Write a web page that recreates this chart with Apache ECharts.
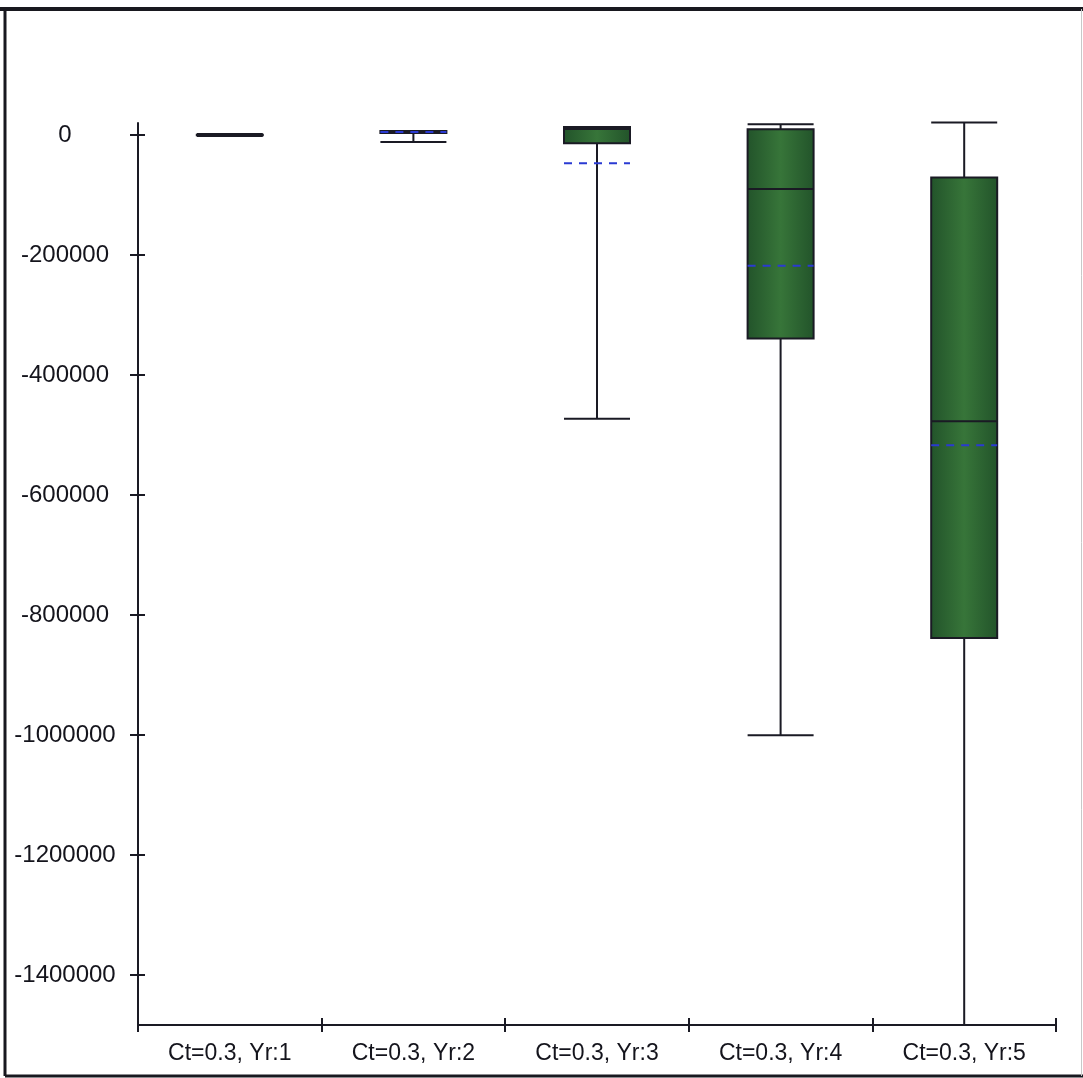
<!DOCTYPE html>
<html>
<head>
<meta charset="utf-8">
<script src="https://cdn.jsdelivr.net/npm/echarts@6/dist/echarts.min.js"></script>
<style>
  html, body { margin: 0; padding: 0; background: #ffffff; }
  #chart { width: 1083px; height: 1078px; }
</style>
</head>
<body>
<div id="chart"></div>
<script>
// Scenario boxes: Ct=0.3 over years 1..5
const categories = ['Ct=0.3, Yr:1', 'Ct=0.3, Yr:2', 'Ct=0.3, Yr:3', 'Ct=0.3, Yr:4', 'Ct=0.3, Yr:5'];
const lowWhisker  = [-1500, -11700, -473000, -1000000, -1483000];
const lowerQuart  = [-500, 3500, -13800, -339000, -838000];
const medians     = [0, 5000, 10000, -90000, -477000];
const upperQuart  = [500, 6500, 13300, 9500, -71000];
const highWhisker = [1500, 6700, 13300, 18000, 21000];
const means       = [null, 5000, -47000, -218000, -517000];
const yTickValues = [0, -200000, -400000, -600000, -800000, -1000000, -1200000, -1400000];
const yMin = -1483000;
const yMax = 20000;

const boxData = categories.map((c, i) => [lowWhisker[i], lowerQuart[i], medians[i], upperQuart[i], highWhisker[i]]);
const meanData = means.map((m, i) => [i, m]);

const textColor = '#14141c';
const lineColor = '#1a1a24';
const fontFamily = 'Liberation Sans, Arial, sans-serif';
const BOX_W = 66;

const chart = echarts.init(document.getElementById('chart'), null, { renderer: 'canvas' });

const yBase = {
  type: 'value',
  min: yMin,
  max: yMax,
  position: 'left',
  splitLine: { show: false }
};
const xBase = {
  type: 'category',
  data: categories,
  position: 'bottom',
  boundaryGap: true,
  splitLine: { show: false }
};

chart.setOption({
  backgroundColor: '#ffffff',
  animation: false,
  grid: { left: 138, right: 27, top: 123, bottom: 53 },
  xAxis: [
    Object.assign({}, xBase, {
      axisLine: { show: true, onZero: false, lineStyle: { color: lineColor, width: 2 } },
      axisTick: { show: true, inside: false, length: 7, lineStyle: { color: lineColor, width: 2 } },
      axisLabel: { show: true, margin: 17, color: textColor, fontSize: 23, fontFamily: fontFamily }
    }),
    Object.assign({}, xBase, {
      axisLine: { show: false, onZero: false },
      axisTick: { show: true, inside: true, length: 7, lineStyle: { color: lineColor, width: 2 } },
      axisLabel: { show: false }
    })
  ],
  yAxis: [
    Object.assign({}, yBase, {
      axisLine: { show: true, onZero: false, lineStyle: { color: lineColor, width: 2 } },
      axisTick: { show: true, inside: false, length: 8, customValues: yTickValues, lineStyle: { color: lineColor, width: 2 } },
      axisLabel: {
        show: true, customValues: yTickValues, margin: 73, align: 'center',
        formatter: function (v) { return String(v); },
        color: textColor, fontSize: 24, fontFamily: fontFamily
      }
    }),
    Object.assign({}, yBase, {
      axisLine: { show: false, onZero: false },
      axisTick: { show: true, inside: true, length: 7, customValues: yTickValues, lineStyle: { color: lineColor, width: 2 } },
      axisLabel: { show: false }
    })
  ],
  series: [
    {
      type: 'boxplot',
      xAxisIndex: 0,
      yAxisIndex: 0,
      data: boxData,
      boxWidth: [BOX_W, BOX_W],
      itemStyle: {
        color: new echarts.graphic.LinearGradient(0, 0, 1, 0, [
          { offset: 0, color: '#22532a' },
          { offset: 0.5, color: '#377539' },
          { offset: 1, color: '#22532a' }
        ]),
        borderColor: lineColor,
        borderWidth: 2
      },
      z: 2
    },
    {
      type: 'custom',
      xAxisIndex: 0,
      yAxisIndex: 0,
      data: meanData,
      z: 3,
      renderItem: function (params, api) {
        const v = api.value(1);
        if (v === null || v === undefined || isNaN(v)) return null;
        const p = api.coord([api.value(0), v]);
        return {
          type: 'line',
          shape: { x1: p[0] - BOX_W / 2, y1: p[1], x2: p[0] + BOX_W / 2, y2: p[1] },
          style: { stroke: '#2a3ad2', lineWidth: 2, lineDash: [8, 7] }
        };
      }
    }
  ],
  graphic: [
    // outer frame
    { type: 'line', shape: { x1: 0, y1: 9, x2: 1083, y2: 9 }, style: { stroke: '#18181f', lineWidth: 4 } },
    { type: 'line', shape: { x1: 5, y1: 9, x2: 5, y2: 1076 }, style: { stroke: '#18181f', lineWidth: 3 } },
    { type: 'line', shape: { x1: 5, y1: 1076, x2: 1083, y2: 1076 }, style: { stroke: '#18181f', lineWidth: 3 } },
    { type: 'line', shape: { x1: 1081.5, y1: 9, x2: 1081.5, y2: 1076 }, style: { stroke: '#c8c8c8', lineWidth: 1 } }
  ]
});
</script>
</body>
</html>
